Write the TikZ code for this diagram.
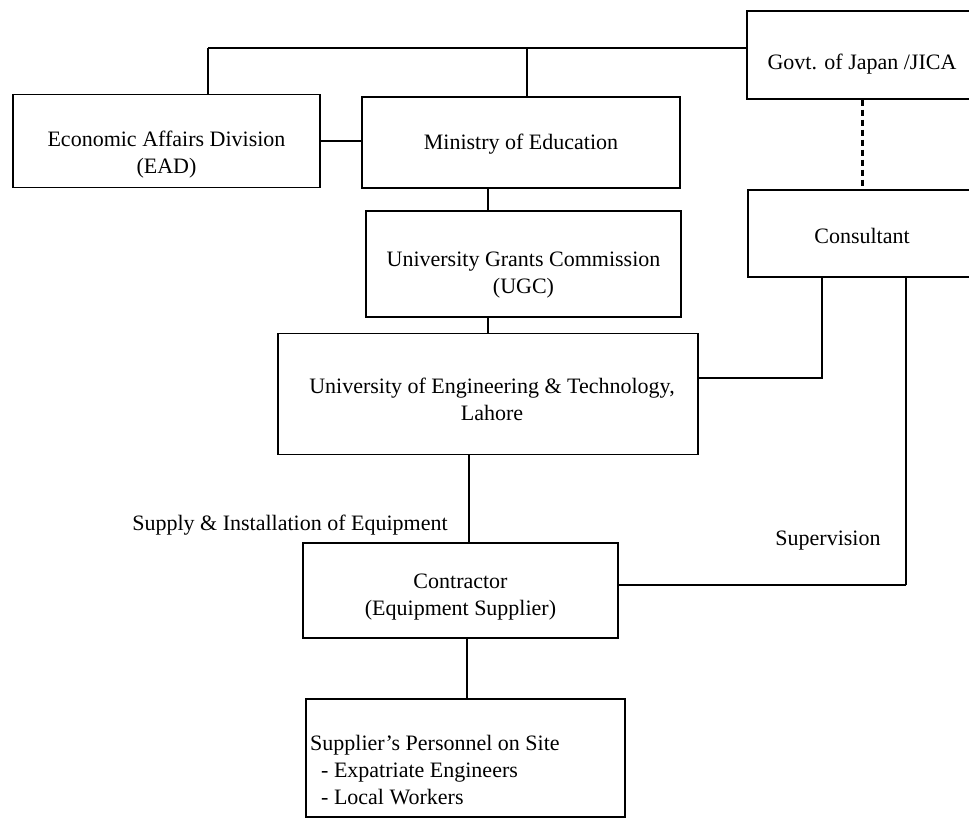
\documentclass[tikz,border=0pt]{standalone}
\usepackage{fontspec}
\setmainfont{Liberation Serif}
\begin{document}
\begin{tikzpicture}[x=1pt,y=-1pt,
  box/.style={draw,line width=1.4pt,inner sep=0pt},
  txt/.style={inner sep=0pt,align=center,font=\fontsize{22}{27}\selectfont},
  lbl/.style={inner sep=0pt,font=\fontsize{22}{27}\selectfont},
  conn/.style={line width=1.3pt},
  vconn/.style={line width=2.6pt},
  dotconn/.style={line width=3pt,dash pattern=on 6pt off 4pt}]
\clip (0,0) rectangle (969,818);
\fill[white] (0,0) rectangle (969,818);

% boxes
\node[box,minimum width=307pt,minimum height=93pt,
  label={[txt,yshift=-14pt]center:{Economic Affairs Division\\(EAD)}}]
  (ead) at (166.5,141) {};
\node[box,minimum width=318pt,minimum height=91pt,
  label={[txt,yshift=-2pt]center:{Ministry of Education}}]
  (min) at (521,142.5) {};
\node[box,minimum width=230pt,minimum height=88pt,
  label={[txt,yshift=-9pt]center:{Govt. of Japan /JICA}}]
  (govt) at (862,55) {};
\node[box,minimum width=228pt,minimum height=87pt,
  label={[txt,yshift=-2pt]center:{Consultant}}]
  (cons) at (862,233.5) {};
\node[box,minimum width=315pt,minimum height=106pt,
  label={[txt,yshift=-11pt]center:{University Grants Commission\\(UGC)}}]
  (ugc) at (523.5,264) {};
\node[box,minimum width=420pt,minimum height=121pt,
  label={[txt,yshift=-5pt,xshift=4pt]center:{University of Engineering \& Technology,\\Lahore}}]
  (uet) at (488,394) {};
\node[box,minimum width=315pt,minimum height=95pt,
  label={[txt,yshift=-7pt]center:{Contractor\\(Equipment Supplier)}}]
  (con) at (460.5,590.5) {};
\node[box,minimum width=319pt,minimum height=118pt] (pers) at (465.5,758) {};
\node[txt,align=left,anchor=north west] (perstext) at (310,735)
  {Supplier's Personnel on Site\\\ \ - Expatriate Engineers\\\ \ - Local Workers};

% labels
\node[lbl] (supply) at (290,525) {Supply \& Installation of Equipment};
\node[lbl] (superv) at (828,541) {Supervision};

% coordinates for bends
\coordinate (top) at (208,48);
\coordinate (mtop) at (527,48);
\coordinate (v1) at (488,0);
\coordinate (v2) at (469,0);
\coordinate (v3) at (467,0);
\coordinate (k1) at (822,378);
\coordinate (k2) at (906,585);

% connectors
\draw[conn] (top) -- (top -| govt.west);
\draw[vconn] (ead.north -| top) -- (top);
\draw[conn] (mtop) -- (mtop |- min.north);
\draw[conn] (ead.east) -- (ead.east -| min.west);
\draw[vconn] (min.south -| v1) -- (ugc.north -| v1);
\draw[vconn] (ugc.south -| v1) -- (uet.north -| v1);
\draw[vconn] (uet.south -| v2) -- (con.north -| v2);
\draw[vconn] (con.south -| v3) -- (pers.north -| v3);
\draw[dotconn] (govt.south) -- (cons.north);
\draw[conn] (cons.south -| k1) -- (k1) -- (k1 -| uet.east);
\draw[vconn] (cons.south -| k2) -- (k2);
\draw[conn] (k2) -- (k2 -| con.east);
\end{tikzpicture}
\end{document}
